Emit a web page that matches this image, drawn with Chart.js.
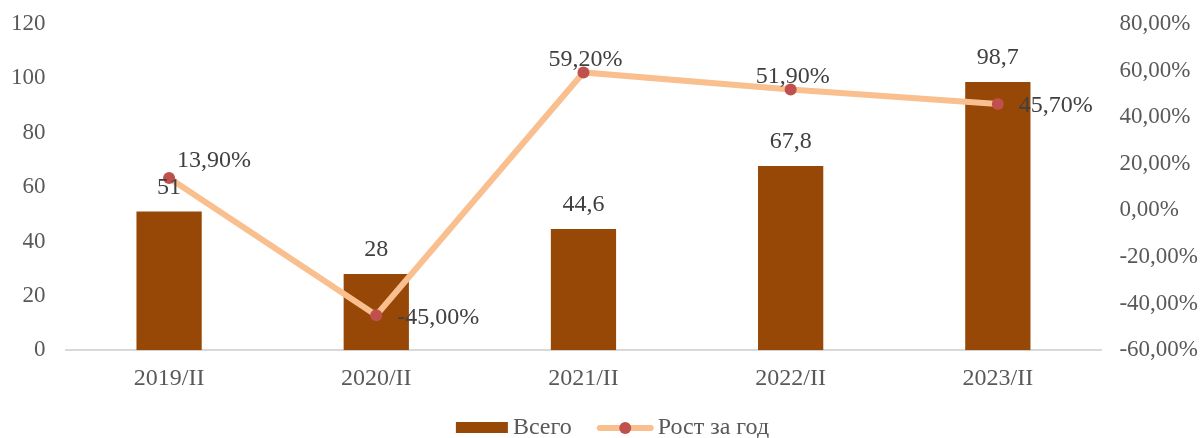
<!DOCTYPE html>
<html>
<head>
<meta charset="utf-8">
<script src="https://cdn.jsdelivr.net/npm/chart.js@4.4.1/dist/chart.umd.min.js"></script>
<style>
  html, body { margin: 0; padding: 0; background: #fff; }
  #wrap { width: 1203px; height: 438px; }
</style>
</head>
<body>
<div id="wrap"><canvas id="chart"></canvas></div>
<script>
// Chart data
const categories = ['2019/II', '2020/II', '2021/II', '2022/II', '2023/II'];
const totalValues = [51, 28, 44.6, 67.8, 98.7];
const growthValues = [13.9, -45.0, 59.2, 51.9, 45.7];
// where each growth label sits relative to its point
const growthLabelPos = ['topRight', 'right', 'top', 'top', 'right'];
const seriesNames = ['Всего', 'Рост за год'];

const FONT = '"Liberation Serif", "Times New Roman", serif';
const BAR_COLOR = '#974706';
const LINE_COLOR = '#F9BF8F';
const POINT_COLOR = '#C0504D';
const TEXT_COLOR = '#595959';

const fmtNum = v => String(v).replace('.', ',');
const fmtPct = v => v.toFixed(2).replace('.', ',') + '%';

// Draws the value labels for bars and line points
const valueLabels = {
    id: 'valueLabels',
    afterDatasetsDraw(chart) {
        const ctx = chart.ctx;
        ctx.save();
        ctx.font = '24px ' + FONT;
        ctx.fillStyle = '#404040';

        // bars (dataset 1)
        chart.getDatasetMeta(1).data.forEach((bar, i) => {
            ctx.textAlign = 'center';
            ctx.textBaseline = 'middle';
            ctx.fillText(fmtNum(totalValues[i]), bar.x, bar.y - 24);
        });

        // line points (dataset 0)
        chart.getDatasetMeta(0).data.forEach((pt, i) => {
            const txt = fmtPct(growthValues[i]);
            const pos = growthLabelPos[i];
            ctx.textBaseline = 'middle';
            if (pos === 'top') {
                ctx.textAlign = 'center';
                ctx.fillText(txt, pt.x + 2, pt.y - 13);
            } else if (pos === 'topRight') {
                ctx.textAlign = 'left';
                ctx.fillText(txt, pt.x + 8, pt.y - 17);
            } else {
                ctx.textAlign = 'left';
                ctx.fillText(txt, pt.x + 21, pt.y + 2);
            }
        });
        ctx.restore();
    }
};

// Bottom legend: bar swatch + line-with-marker swatch
const bottomLegend = {
    id: 'bottomLegend',
    afterDraw(chart) {
        const ctx = chart.ctx;
        ctx.save();
        ctx.font = '24px ' + FONT;
        ctx.fillStyle = TEXT_COLOR;
        ctx.textBaseline = 'middle';
        ctx.textAlign = 'left';

        const y = 428;
        const w0 = ctx.measureText(seriesNames[0]).width;
        const w1 = ctx.measureText(seriesNames[1]).width;
        const total = 52 + 5 + w0 + 25 + 57 + 4 + w1;
        let x = chart.width / 2 + 11 - total / 2;

        ctx.fillStyle = BAR_COLOR;
        ctx.fillRect(x, y - 6, 52, 11);
        x += 57;
        ctx.fillStyle = TEXT_COLOR;
        ctx.fillText(seriesNames[0], x, y);
        x += w0 + 25;

        ctx.strokeStyle = LINE_COLOR;
        ctx.lineWidth = 6;
        ctx.lineCap = 'round';
        ctx.beginPath();
        ctx.moveTo(x + 3, y);
        ctx.lineTo(x + 54, y);
        ctx.stroke();
        ctx.fillStyle = POINT_COLOR;
        ctx.beginPath();
        ctx.arc(x + 28.5, y, 6, 0, Math.PI * 2);
        ctx.fill();
        x += 61;
        ctx.fillStyle = TEXT_COLOR;
        ctx.fillText(seriesNames[1], x, y);
        ctx.restore();
    }
};

// vertical axes: let layout padding alone decide the plot's top/bottom
function trimVertical(scale, dw) {
    scale.width -= dw;
    scale.paddingTop = 0;
    scale.paddingBottom = 0;
}

new Chart(document.getElementById('chart'), {
    data: {
        labels: categories,
        datasets: [
            {
                type: 'line',
                label: seriesNames[1],
                data: growthValues,
                yAxisID: 'y1',
                borderColor: LINE_COLOR,
                backgroundColor: POINT_COLOR,
                borderWidth: 6,
                pointRadius: 6,
                pointHoverRadius: 6,
                pointBorderWidth: 0,
                pointBackgroundColor: POINT_COLOR,
                tension: 0,
                order: 0,
            },
            {
                type: 'bar',
                label: seriesNames[0],
                data: totalValues,
                yAxisID: 'y',
                backgroundColor: BAR_COLOR,
                borderColor: BAR_COLOR,
                barPercentage: 0.315,
                categoryPercentage: 1,
                order: 1,
            },
        ]
    },
    options: {
        responsive: true,
        maintainAspectRatio: false,
        animation: false,
        layout: { padding: { top: 24, left: 8, right: 2, bottom: 31 } },
        plugins: {
            tooltip: { enabled: false },
            legend: { display: false },
        },
        scales: {
            x: {
                grid: { display: false, drawTicks: false },
                border: { display: true, color: '#D9D9D9', width: 2 },
                ticks: {
                    font: { family: FONT, size: 24 },
                    color: TEXT_COLOR,
                    padding: 14,
                },
            },
            y: {
                position: 'left',
                min: 0,
                max: 120,
                grid: { display: false, drawTicks: false },
                border: { display: false },
                ticks: {
                    stepSize: 20,
                    font: { family: FONT, size: 23 },
                    color: TEXT_COLOR,
                    padding: 20,
                },
                afterFit: scale => trimVertical(scale, 17),
            },
            y1: {
                position: 'right',
                min: -60,
                max: 80,
                grid: { display: false, drawTicks: false },
                border: { display: false },
                ticks: {
                    stepSize: 20,
                    font: { family: FONT, size: 23 },
                    color: TEXT_COLOR,
                    padding: 18,
                    callback: v => fmtPct(v),
                },
                afterFit: scale => trimVertical(scale, 15),
            },
        }
    },
    plugins: [valueLabels, bottomLegend]
});
</script>
</body>
</html>
